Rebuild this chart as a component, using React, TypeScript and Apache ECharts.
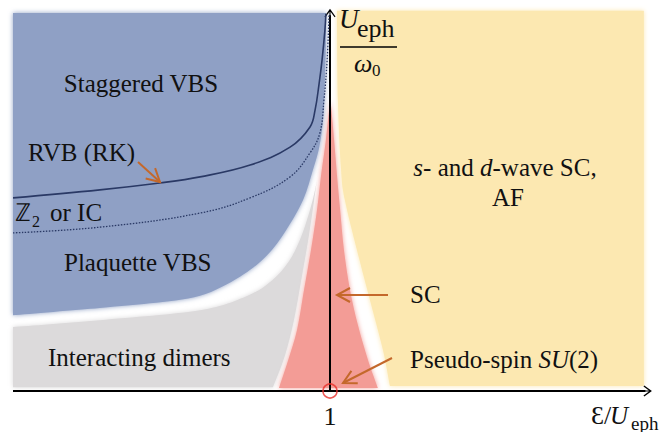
import React, { useEffect, useRef } from "react";
import * as echarts from "echarts";

// Phase regions in data units (x = ε/U_eph, y = U_eph/ω0, schematic 0..10).
// Each region is a list of boundary pieces; a piece of 2 points is straight, longer pieces are smooth.
const staggeredBlue: number[][][] = [
  [[0, 9.92], [0.987, 9.92]],
  [[0.987, 9.92], [0.987, 9.21], [0.984, 8.16], [0.978, 7.11], [0.966, 6.4], [0.946, 5.8],
   [0.915, 5.01], [0.86, 4.2], [0.8, 3.55], [0.716, 3.0], [0.59, 2.5], [0.432, 2.3],
   [0.274, 2.18], [0, 1.99]],
];
const dimersGray: number[][][] = [
  [[0, 0.1], [0.82, 0.1]],
  [[0.82, 0.1], [0.858, 0.94], [0.886, 1.86], [0.909, 2.91], [0.931, 3.96], [0.95, 5.01], [0.968, 6.06]],
  [[0.968, 6.06], [0.956, 5.4], [0.935, 4.7], [0.905, 3.96], [0.87, 3.4], [0.817, 2.9],
   [0.74, 2.5], [0.59, 2.12], [0.274, 1.86], [0, 1.68]],
];
const scRed: number[][][] = [
  [[1.0, 7.6], [0.987, 6.59], [0.972, 5.67], [0.959, 4.75], [0.94, 3.7], [0.918, 2.65],
   [0.896, 1.6], [0.868, 0.81], [0.839, 0.08]],
  [[0.839, 0.08], [1.151, 0.08]],
  [[1.151, 0.08], [1.12, 0.81], [1.088, 1.73], [1.063, 2.65], [1.044, 3.7], [1.032, 4.75],
   [1.022, 5.67], [1.013, 6.59], [1.003, 7.5], [1.0, 7.6]],
];
const afYellow: number[][][] = [
  [[1.022, 9.98], [1.99, 9.98]],
  [[1.99, 9.98], [1.99, 0.13]],
  [[1.99, 0.13], [1.189, 0.13]],
  [[1.189, 0.13], [1.167, 1.08], [1.126, 2.39], [1.085, 3.7], [1.047, 5.01], [1.035, 5.8],
   [1.025, 7.64], [1.022, 9.98]],
];
// Transition lines
const rvbLine: number[][] = [
  [0, 5.07], [0.274, 5.28], [0.463, 5.46], [0.59, 5.62], [0.748, 5.93], [0.874, 6.4],
  [0.937, 6.93], [0.953, 7.38], [0.965, 8.03], [0.975, 8.69], [0.984, 9.48], [0.987, 9.9],
];
const z2Line: number[][] = [
  [0, 4.15], [0.274, 4.3], [0.59, 4.67], [0.748, 5.07], [0.874, 5.62], [0.937, 6.25],
  [0.968, 6.77], [0.981, 7.64], [0.991, 8.69], [0.997, 9.9],
];
const criticalPoint: number[][] = [[1, 0]];

const SERIF = "Liberation Serif";
const ARROW = "path://M10,0 L20,14 L18.3,15.6 L11,5.5 L11,24 L9,24 L9,5.5 L1.7,15.6 L0,14 Z";
const ORANGE = "#c4682b";

function piecePath(pts: number[][], first: boolean): string {
  const f = (v: number) => v.toFixed(2);
  let d = first ? `M${f(pts[0][0])},${f(pts[0][1])}` : `L${f(pts[0][0])},${f(pts[0][1])}`;
  if (pts.length === 2) {
    return d + ` L${f(pts[1][0])},${f(pts[1][1])}`;
  }
  for (let i = 0; i < pts.length - 1; i++) {
    const p0 = pts[Math.max(0, i - 1)];
    const p1 = pts[i];
    const p2 = pts[i + 1];
    const p3 = pts[Math.min(pts.length - 1, i + 2)];
    const c1 = [p1[0] + (p2[0] - p0[0]) / 6, p1[1] + (p2[1] - p0[1]) / 6];
    const c2 = [p2[0] - (p3[0] - p1[0]) / 6, p2[1] - (p3[1] - p1[1]) / 6];
    d += ` C${f(c1[0])},${f(c1[1])} ${f(c2[0])},${f(c2[1])} ${f(p2[0])},${f(p2[1])}`;
  }
  return d;
}

function region(name: string, pieces: number[][][], color: string, z: number) {
  return {
    type: "custom",
    name,
    coordinateSystem: "cartesian2d",
    data: pieces.flat(),
    encode: { x: 0, y: 1 },
    silent: true,
    clip: false,
    z,
    renderItem: (params: any, api: any) => {
      if (params.dataIndex !== 0) return null;
      let d = "";
      pieces.forEach((pc, k) => {
        d += piecePath(pc.map((p) => api.coord(p)), k === 0) + " ";
      });
      d += "Z";
      return {
        type: "path",
        shape: { pathData: d },
        style: { fill: color, shadowBlur: 5, shadowColor: color },
      };
    },
  };
}

function txt(text: string, x: number, y: number, size = 25, align = "left", extra: any = {}) {
  return {
    type: "text",
    x,
    y,
    z: 20,
    style: {
      text,
      fill: "#111",
      fontFamily: SERIF,
      fontSize: size,
      fontStyle: extra.italic ? "italic" : "normal",
      align,
      verticalAlign: "middle",
      rich: extra.rich,
    },
  };
}

function arrow(x1: number, y1: number, x2: number, y2: number) {
  const L = Math.hypot(x2 - x1, y2 - y1);
  const dx = (x2 - x1) / L, dy = (y2 - y1) / L;
  const bx = x2 - 13 * dx, by = y2 - 13 * dy;
  const nx = -dy * 7, ny = dx * 7;
  return [
    { type: "line", z: 20, shape: { x1, y1, x2, y2 }, style: { stroke: ORANGE, lineWidth: 2 } },
    {
      type: "polyline",
      z: 20,
      shape: { points: [[bx + nx, by + ny], [x2, y2], [bx - nx, by - ny]] },
      style: { stroke: ORANGE, lineWidth: 2, fill: "none" },
    },
  ];
}

export default function App() {
  const ref = useRef<HTMLDivElement>(null);
  useEffect(() => {
    if (!ref.current) return;
    const chart = echarts.init(ref.current, undefined, { renderer: "svg" });
    const it = { fontStyle: "italic", fontSize: 25, fontFamily: SERIF };
    chart.setOption({
      animation: false,
      backgroundColor: "#fff",
      textStyle: { fontFamily: SERIF },
      grid: { left: 13, right: 15, top: 10, bottom: 41 },
      xAxis: { type: "value", min: 0, max: 2, show: false },
      yAxis: { type: "value", min: 0, max: 10, show: false },
      series: [
        region("Interacting dimers", dimersGray, "#dcdadb", 1),
        region("Staggered VBS", staggeredBlue, "#8fa0c5", 2),
        region("SC", scRed, "#f39c96", 3),
        region("AF", afYellow, "#fce8b1", 3),
        {
          type: "line",
          name: "RVB (RK)",
          data: rvbLine,
          smooth: 0.4,
          showSymbol: false,
          silent: true,
          z: 5,
          lineStyle: { color: "#2a3965", width: 1.6 },
        },
        {
          type: "line",
          name: "Z2 or IC",
          data: z2Line,
          smooth: 0.4,
          showSymbol: false,
          silent: true,
          z: 5,
          lineStyle: { color: "#2a3965", width: 1.3, type: [1.5, 1.5] },
        },
        {
          type: "scatter",
          data: criticalPoint,
          symbol: "circle",
          symbolSize: 14,
          silent: true,
          z: 8,
          itemStyle: { color: "rgba(0,0,0,0)", borderColor: "#e8302a", borderWidth: 1.6 },
          markLine: {
            silent: true,
            symbol: ["none", ARROW],
            symbolSize: [11, 13],
            label: { show: false },
            lineStyle: { color: "#000", width: 2, type: "solid" },
            data: [
              [{ coord: [0, 0] }, { coord: [1.995, 0] }],
              [{ coord: [1, 0] }, { coord: [1, 9.86] }],
            ],
          },
        },
      ],
      graphic: [
        txt("Staggered VBS", 141, 83, 25, "center"),
        txt("RVB (RK)", 28, 152),
        txt("ℤ", 15, 212),
        txt("2", 32, 221, 16),
        txt("or IC", 50, 212),
        txt("Plaquette VBS", 64, 262),
        txt("Interacting dimers", 48, 357),
        txt("{i|s}- and {i|d}-wave SC,", 505, 167, 25, "center", { rich: { i: it } }),
        txt("AF", 508, 197, 25, "center"),
        txt("SC", 410, 294),
        txt("Pseudo-spin {i|SU}(2)", 410, 359, 25, "left", { rich: { i: it } }),
        txt("1", 330, 416, 26, "center"),
        txt("U", 339, 19, 27, "left", { italic: true }),
        txt("eph", 357, 28, 26),
        { type: "line", z: 20, shape: { x1: 340, y1: 47, x2: 397, y2: 47 }, style: { stroke: "#000", lineWidth: 1.6 } },
        txt("ω", 354, 63, 26, "left", { italic: true }),
        txt("0", 372, 70, 17),
        txt("Ɛ/", 591, 415, 26),
        txt("U", 610, 415, 25, "left", { italic: true }),
        txt("eph", 631, 423, 19),
        ...arrow(138, 162, 160, 182),
        ...arrow(388, 295, 337, 295),
        ...arrow(392, 358, 343, 383),
      ],
    });
    return () => chart.dispose();
  }, []);
  return (
    <div
      ref={ref}
      style={{ position: "absolute", left: 0, top: 0, width: 662, height: 432 }}
    />
  );
}
